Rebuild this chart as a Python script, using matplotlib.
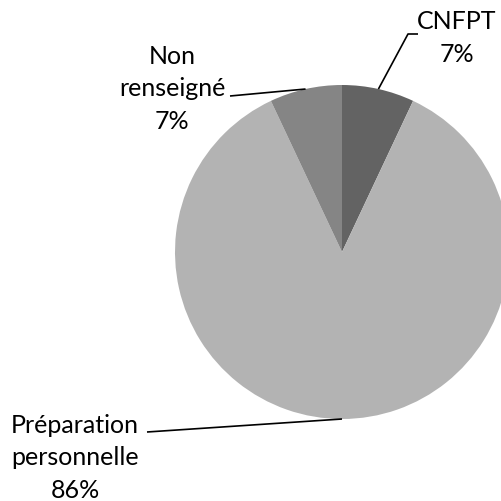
import numpy as np
import matplotlib
matplotlib.use("Agg")
import matplotlib.pyplot as plt

labels = ["CNFPT", "Préparation\npersonnelle", "Non\nrenseigné"]
values = [7, 86, 7]
colors = ["#636363", "#b3b3b3", "#858585"]

W, H = 501, 502
fig = plt.figure(figsize=(W / 100, H / 100), dpi=100)
ax = fig.add_axes([0, 0, 1, 1])

def Y(py):
    return H - py

cx, cy, r = 342, Y(253), 167
wedges, _ = ax.pie(values, colors=colors, startangle=90, counterclock=False,
                   center=(cx, cy), radius=r, frame=True,
                   wedgeprops=dict(linewidth=0))
ax.set_xlim(0, W)
ax.set_ylim(0, H)
ax.set_aspect("equal")
ax.axis("off")

font = dict(family=["Lato", "DejaVu Sans"], fontsize=18, color="#000000")

# leader elbow points & label centers (pixel coords)
elbows = [[(408, 35), (418, 35)], [(147, 433)], [(230, 97)]]
label_pos = [(457, 38), (75, 458), (172, 89)]

total = sum(values)
for w, lab, v, el, lp in zip(wedges, labels, values, elbows, label_pos):
    ang = np.deg2rad((w.theta1 + w.theta2) / 2)
    sx, sy = cx + r * np.cos(ang), cy + r * np.sin(ang)
    xs = [sx] + [p[0] for p in el]
    ys = [sy] + [Y(p[1]) for p in el]
    ax.plot(xs, ys, color="black", lw=1.2, solid_capstyle="butt")
    txt = f"{lab}\n{round(100 * v / total)}%"
    ax.text(lp[0], Y(lp[1]), txt, ha="center", va="center",
            multialignment="center", linespacing=1.5, **font)

fig.savefig("out.png", dpi=100)
